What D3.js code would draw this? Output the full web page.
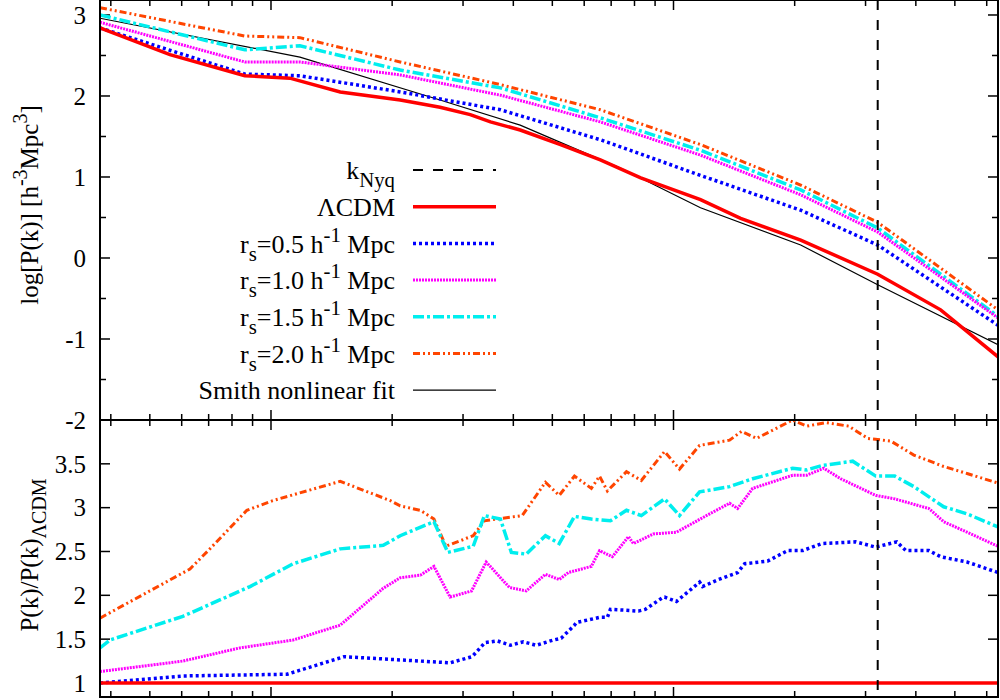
<!DOCTYPE html>
<html>
<head>
<meta charset="utf-8">
<script src="https://cdn.jsdelivr.net/npm/d3@7"></script>
<style>
body { margin: 0; background: #fff; }
svg text { font-family: "Liberation Serif", "Times New Roman", serif; }
</style>
</head>
<body>
<script>
// Power spectra (top) and ratios to LCDM (bottom)

const kNyq = 3.216;

// top panel: [k, log P(k)]
const pkLCDM = [[0.0376,2.84],[0.0561,2.51],[0.0861,2.25],[0.1114,2.22],[0.1486,2.05],[0.2094,1.95],[0.263,1.86],[0.3126,1.77],[0.351,1.68],[0.416,1.58],[0.524,1.40],[0.658,1.21],[0.829,0.99],[1.167,0.72],[1.468,0.49],[2.07,0.22],[3.216,-0.20],[4.61,-0.64],[6.40,-1.22]];
const pkSmith = [[0.0376,2.96],[0.118,2.48],[0.263,1.95],[0.416,1.64],[0.738,1.11],[1.167,0.62],[2.07,0.16],[3.216,-0.33],[6.40,-1.07]];
const pk05 = [[0.0376,2.84],[0.0861,2.27],[0.118,2.25],[0.2094,2.05],[0.3715,1.83],[0.658,1.46],[1.167,1.02],[2.07,0.59],[3.216,0.16],[6.40,-0.83]];
const pk10 = [[0.0376,2.91],[0.0861,2.42],[0.118,2.42],[0.2094,2.26],[0.3715,2.01],[0.658,1.68],[1.167,1.27],[2.07,0.78],[3.216,0.32],[6.40,-0.74]];
const pk15 = [[0.0376,3.00],[0.0861,2.57],[0.118,2.62],[0.2094,2.32],[0.3715,2.10],[0.658,1.73],[1.167,1.33],[2.07,0.84],[3.216,0.37],[6.40,-0.72]];
const pk20 = [[0.0376,3.09],[0.0861,2.74],[0.118,2.72],[0.2094,2.42],[0.3715,2.14],[0.658,1.83],[1.167,1.40],[2.07,0.90],[3.216,0.44],[6.40,-0.64]];

// bottom panel: [k, P(k)/P(k)_LCDM]
const ratioLCDM = [[0.0376,1.0],[6.40,1.0]];
const ratio05 = [[0.0376,1.0],[0.0604,1.08],[0.1096,1.10],[0.152,1.30],[0.2786,1.23],[0.316,1.30],[0.340,1.46],[0.365,1.48],[0.3935,1.43],[0.4236,1.47],[0.456,1.43],[0.5027,1.49],[0.526,1.51],[0.5675,1.66],[0.574,1.69],[0.658,1.75],[0.685,1.75],[0.697,1.84],[0.760,1.83],[0.818,1.82],[0.851,1.84],[0.944,1.98],[0.950,1.98],[1.017,1.93],[1.161,2.15],[1.181,2.10],[1.294,2.18],[1.443,2.26],[1.503,2.36],[1.713,2.39],[1.921,2.51],[2.094,2.51],[2.335,2.59],[2.835,2.61],[3.18,2.55],[3.587,2.61],[3.777,2.51],[4.31,2.51],[4.61,2.44],[5.36,2.38],[6.40,2.26]];
const ratio10 = [[0.0376,1.13],[0.0604,1.25],[0.0837,1.40],[0.1135,1.49],[0.1486,1.66],[0.190,2.08],[0.2094,2.20],[0.235,2.23],[0.254,2.33],[0.2786,1.98],[0.315,2.05],[0.3425,2.38],[0.391,2.09],[0.4306,2.05],[0.4806,2.24],[0.520,2.18],[0.548,2.26],[0.625,2.33],[0.655,2.51],[0.705,2.44],[0.773,2.67],[0.795,2.59],[0.891,2.70],[1.017,2.72],[1.208,2.91],[1.378,3.05],[1.443,2.99],[1.573,3.22],[1.977,3.37],[2.143,3.37],[2.362,3.45],[2.602,3.33],[3.18,3.14],[3.546,3.10],[4.31,2.99],[4.69,2.84],[5.36,2.72],[6.40,2.56]];
const ratio15 = [[0.0376,1.40],[0.0398,1.49],[0.0604,1.76],[0.0887,2.10],[0.1135,2.36],[0.1486,2.53],[0.190,2.57],[0.2094,2.68],[0.254,2.84],[0.275,2.49],[0.318,2.56],[0.339,2.91],[0.3715,2.87],[0.3955,2.49],[0.4306,2.47],[0.4806,2.68],[0.520,2.59],[0.5675,2.90],[0.625,2.87],[0.697,2.85],[0.764,2.97],[0.832,2.91],[0.950,3.10],[1.035,2.91],[1.161,3.18],[1.378,3.24],[1.573,3.33],[1.977,3.45],[2.143,3.43],[2.335,3.48],[2.787,3.53],[3.18,3.36],[3.546,3.36],[3.955,3.24],[4.69,3.01],[5.36,2.93],[6.40,2.78]];
const ratio20 = [[0.0376,1.74],[0.050,2.05],[0.0629,2.30],[0.0705,2.53],[0.0871,2.97],[0.101,3.08],[0.1486,3.30],[0.198,3.08],[0.2094,3.02],[0.235,2.97],[0.254,2.87],[0.272,2.56],[0.318,2.68],[0.339,2.85],[0.421,2.91],[0.4806,3.29],[0.520,3.14],[0.5675,3.36],[0.625,3.22],[0.655,3.36],[0.685,3.19],[0.764,3.41],[0.832,3.31],[0.950,3.64],[1.035,3.44],[1.161,3.71],[1.378,3.77],[1.476,3.87],[1.608,3.79],[1.977,4.00],[2.143,3.93],[2.389,3.97],[2.724,3.93],[3.04,3.79],[3.465,3.76],[3.955,3.60],[4.69,3.47],[5.36,3.39],[6.40,3.28]];

const topTicks = [3, 2, 1, 0, -1, -2];
const topMinor = [2.5, 1.5, 0.5, -0.5, -1.5];
const bottomTicks = [1, 1.5, 2, 2.5, 3, 3.5];
const kMajor = [0.1, 1];
const kMinor = [0.04, 0.05, 0.06, 0.07, 0.08, 0.09, 0.2, 0.3, 0.4, 0.5, 0.6, 0.7, 0.8, 0.9, 2, 3, 4, 5, 6];

const W = 1000, H = 700;
const left = 100, right = 998;
const topPanel = { y0: 0, y1: 420 };
const botPanel = { y0: 420, y1: 697 };
const FONT = "Liberation Serif, Times New Roman, serif";

const svg = d3.select("body").append("svg").attr("width", W).attr("height", H)
    .attr("font-family", FONT);

const x = d3.scaleLog().domain([0.0376, 6.40]).range([left, right]);
const yTop = d3.scaleLinear().domain([-2, 3.185]).range([topPanel.y1, topPanel.y0]);
const yBot = d3.scaleLinear().domain([0.84, 4.0]).range([botPanel.y1, botPanel.y0]);

const styles = {
    lcdm: { color: "#ff0000", width: 3.5, dash: null },
    r05: { color: "#0000ff", width: 3.5, dash: "3,3" },
    r10: { color: "#ff00ff", width: 3, dash: "2,1" },
    r15: { color: "#00eeee", width: 3.5, dash: "11,3,3,3" },
    r20: { color: "#ff4500", width: 3, dash: "7,3,2,3,2,3" },
    smith: { color: "#000000", width: 1.2, dash: null },
    nyq: { color: "#000000", width: 2, dash: "10,10" }
};

svg.append("defs").selectAll("clipPath")
    .data([["clipTop", topPanel], ["clipBot", botPanel]])
    .join("clipPath").attr("id", d => d[0])
    .append("rect").attr("x", left).attr("y", d => d[1].y0)
    .attr("width", right - left).attr("height", d => d[1].y1 - d[1].y0);

function drawLine(data, y, st, clip) {
    svg.append("path")
        .datum(data)
        .attr("clip-path", `url(#${clip})`)
        .attr("fill", "none")
        .attr("stroke", st.color)
        .attr("stroke-width", st.width)
        .attr("stroke-dasharray", st.dash)
        .attr("d", d3.line().x(d => x(d[0])).y(d => y(d[1])));
}

// x ticks on both panels
[topPanel, botPanel].forEach(p => {
    const g = svg.append("g").attr("stroke", "#000").attr("stroke-width", 1.5);
    kMajor.forEach(k => {
        g.append("line").attr("x1", x(k)).attr("x2", x(k)).attr("y1", p.y1).attr("y2", p.y1 - 10);
        g.append("line").attr("x1", x(k)).attr("x2", x(k)).attr("y1", p.y0).attr("y2", p.y0 + 10);
    });
    kMinor.forEach(k => {
        g.append("line").attr("x1", x(k)).attr("x2", x(k)).attr("y1", p.y1).attr("y2", p.y1 - 6);
        g.append("line").attr("x1", x(k)).attr("x2", x(k)).attr("y1", p.y0).attr("y2", p.y0 + 6);
    });
});

function yTicks(vals, y, len, labels) {
    const g = svg.append("g");
    vals.forEach(v => {
        g.append("line").attr("x1", left).attr("x2", left + len).attr("y1", y(v)).attr("y2", y(v))
            .attr("stroke", "#000").attr("stroke-width", 1.5);
        g.append("line").attr("x1", right).attr("x2", right - len).attr("y1", y(v)).attr("y2", y(v))
            .attr("stroke", "#000").attr("stroke-width", 1.5);
        if (labels) {
            g.append("text").attr("x", left - 14).attr("y", y(v)).attr("dy", "0.35em")
                .attr("text-anchor", "end").attr("font-size", 25).text(v);
        }
    });
}
yTicks(topTicks, yTop, 10, true);
yTicks(topMinor, yTop, 6, false);
yTicks(bottomTicks, yBot, 10, true);

// data lines
drawLine(pkSmith, yTop, styles.smith, "clipTop");
drawLine(pk20, yTop, styles.r20, "clipTop");
drawLine(pk15, yTop, styles.r15, "clipTop");
drawLine(pk10, yTop, styles.r10, "clipTop");
drawLine(pk05, yTop, styles.r05, "clipTop");
drawLine(pkLCDM, yTop, styles.lcdm, "clipTop");

drawLine(ratio20, yBot, styles.r20, "clipBot");
drawLine(ratio15, yBot, styles.r15, "clipBot");
drawLine(ratio10, yBot, styles.r10, "clipBot");
drawLine(ratio05, yBot, styles.r05, "clipBot");
drawLine(ratioLCDM, yBot, styles.lcdm, "clipBot");

// k_Nyq marker
[topPanel, botPanel].forEach(p => {
    svg.append("line").attr("x1", x(kNyq)).attr("x2", x(kNyq)).attr("y1", p.y0).attr("y2", p.y1)
        .attr("stroke", styles.nyq.color).attr("stroke-width", styles.nyq.width)
        .attr("stroke-dasharray", styles.nyq.dash);
});

[topPanel, botPanel].forEach(p => {
    svg.append("rect").attr("x", left).attr("y", p.y0).attr("width", right - left).attr("height", p.y1 - p.y0)
        .attr("fill", "none").attr("stroke", "#000").attr("stroke-width", 2);
});

// legend
const legendRows = [
    { key: "nyq", parts: ["k", ["sub", "Nyq"]] },
    { key: "lcdm", parts: ["ΛCDM"] },
    { key: "r05", parts: ["r", ["sub", "s"], "=0.5 h", ["sup", "-1"], " Mpc"] },
    { key: "r10", parts: ["r", ["sub", "s"], "=1.0 h", ["sup", "-1"], " Mpc"] },
    { key: "r15", parts: ["r", ["sub", "s"], "=1.5 h", ["sup", "-1"], " Mpc"] },
    { key: "r20", parts: ["r", ["sub", "s"], "=2.0 h", ["sup", "-1"], " Mpc"] },
    { key: "smith", parts: ["Smith nonlinear fit"] }
];

function richText(t, parts, size) {
    parts.forEach(p => {
        if (typeof p === "string") {
            t.append("tspan").attr("font-size", size).text(p);
        } else {
            const shift = p[0] === "sub" ? 8 : -11;
            t.append("tspan").attr("dy", shift).attr("font-size", size * 0.8).text(p[1]);
            t.append("tspan").attr("dy", -shift).attr("font-size", size).text("\u200b");
        }
    });
}

legendRows.forEach((r, i) => {
    const yy = 170 + i * 36.7;
    const t = svg.append("text").attr("x", 395).attr("y", yy).attr("dy", "0.35em")
        .attr("text-anchor", "end").attr("font-size", 26);
    richText(t, r.parts, 26);
    const st = styles[r.key];
    svg.append("line").attr("x1", 413).attr("x2", 496).attr("y1", yy).attr("y2", yy)
        .attr("stroke", st.color).attr("stroke-width", st.width).attr("stroke-dasharray", st.dash);
});

// axis titles
const t1 = svg.append("text").attr("transform", "translate(38,205) rotate(-90)")
    .attr("text-anchor", "middle").attr("font-size", 25);
richText(t1, ["log[P(k)] [h", ["sup", "-3"], "Mpc", ["sup", "3"], "]"], 25);

const t2 = svg.append("text").attr("transform", "translate(38,555) rotate(-90)")
    .attr("text-anchor", "middle").attr("font-size", 25);
richText(t2, ["P(k)/P(k)", ["sub", "ΛCDM"]], 25);
</script>
</body>
</html>
